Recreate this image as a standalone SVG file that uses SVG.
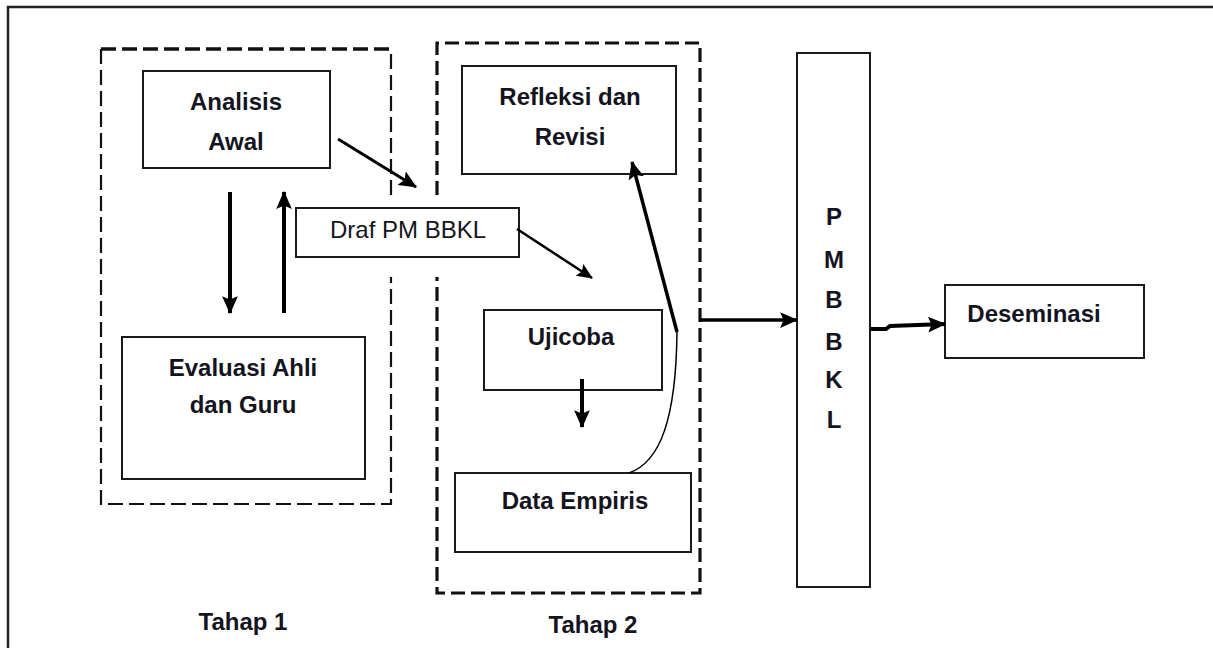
<svg xmlns="http://www.w3.org/2000/svg" width="1213" height="648" viewBox="0 0 1213 648">
<style>
.frame{fill:none;stroke:#222;stroke-width:2.5}
.box{fill:#fff;stroke:#1a1a1a;stroke-width:2}
.dash1{fill:none;stroke:#111;stroke-width:2.2;stroke-dasharray:15 6}
.dash1t{fill:none;stroke:#111;stroke-width:3.5;stroke-dasharray:15 6}
.dash2{fill:none;stroke:#111;stroke-width:3.2;stroke-dasharray:14 6}
.t{font-family:"Liberation Sans",Arial,sans-serif;font-size:24px;font-weight:bold;fill:#141420;text-anchor:middle}
.tr{font-family:"Liberation Sans",Arial,sans-serif;font-size:24px;fill:#141420;text-anchor:middle}
.c{fill:none;stroke:#000;stroke-linecap:butt}
</style>
<defs>
<marker id="ah" viewBox="0 0 16 14" refX="15" refY="7" markerWidth="18" markerHeight="16" markerUnits="userSpaceOnUse" orient="auto">
<path d="M0,0 L16,7 L0,14 L3,7 z" fill="#000"/>
</marker>
<marker id="ahs" viewBox="0 0 16 14" refX="15" refY="7" markerWidth="17" markerHeight="14" markerUnits="userSpaceOnUse" orient="auto">
<path d="M0,0 L16,7 L0,14 L3,7 z" fill="#000"/>
</marker>
</defs>
<rect width="1213" height="648" fill="#fff"/>
<path class="frame" d="M8,648 L8,7 L1213,7"/>

<g id="tahap1-group">
<path class="dash1" d="M391,195 L391,49 M101,49 L101,504 L391,504 L391,277"/>
<path class="dash1t" d="M101,49 L391,49"/>
<text class="t" x="243" y="630">Tahap 1</text>
</g>
<g id="tahap2-group">
<path class="dash2" d="M437,195 L437,43 L700,43 L700,593 L437,593 L437,277"/>
<text class="t" x="593" y="633">Tahap 2</text>
</g>

<g id="analisis-awal">
<rect class="box" x="143" y="71" width="187" height="97"/>
<text class="t" x="236" y="110">Analisis</text>
<text class="t" x="236" y="150">Awal</text>
</g>
<g id="evaluasi">
<rect class="box" x="122" y="337" width="243" height="142"/>
<text class="t" x="243" y="376">Evaluasi Ahli</text>
<text class="t" x="243" y="413">dan Guru</text>
</g>
<g id="draf">
<rect class="box" x="296" y="208" width="223" height="49"/>
<text class="tr" x="408" y="238">Draf PM BBKL</text>
</g>
<g id="refleksi">
<rect class="box" x="462" y="66" width="214" height="108"/>
<text class="t" x="570" y="105">Refleksi dan</text>
<text class="t" x="570" y="145">Revisi</text>
</g>
<g id="ujicoba">
<rect class="box" x="484" y="310" width="178" height="80"/>
<text class="t" x="571" y="345">Ujicoba</text>
</g>
<g id="data-empiris">
<rect class="box" x="455" y="473" width="236" height="79"/>
<text class="t" x="575" y="509">Data Empiris</text>
</g>
<g id="pmbbkl">
<rect class="box" x="797" y="53" width="73" height="534"/>
<text class="t" x="834" y="225">P</text>
<text class="t" x="834" y="268">M</text>
<text class="t" x="834" y="308">B</text>
<text class="t" x="834" y="350">B</text>
<text class="t" x="834" y="388">K</text>
<text class="t" x="834" y="428">L</text>
</g>
<g id="deseminasi">
<rect class="box" x="945" y="285" width="199" height="73"/>
<text class="t" x="1034" y="322">Deseminasi</text>
</g>

<g id="connectors">
<line class="c" x1="338" y1="139" x2="416" y2="187" stroke-width="3" marker-end="url(#ah)"/>
<line class="c" x1="230" y1="192" x2="230" y2="313" stroke-width="4" marker-end="url(#ah)"/>
<line class="c" x1="284" y1="313" x2="284" y2="192" stroke-width="4" marker-end="url(#ah)"/>
<line class="c" x1="517" y1="229" x2="592" y2="278" stroke-width="2.5" marker-end="url(#ahs)"/>
<line class="c" x1="582" y1="379" x2="582" y2="427" stroke-width="4" marker-end="url(#ah)"/>
<path class="c" d="M629,473 C660,462 676,420 677,332" stroke-width="1.5"/>
<line class="c" x1="677" y1="332" x2="632" y2="162" stroke-width="3.5" marker-end="url(#ah)"/>
<line class="c" x1="700" y1="320" x2="797" y2="320" stroke-width="3.5" marker-end="url(#ah)"/>
<path class="c" d="M870,329 L886,329 L890,326 L945,324" stroke-width="4" marker-end="url(#ah)"/>
</g>
</svg>
